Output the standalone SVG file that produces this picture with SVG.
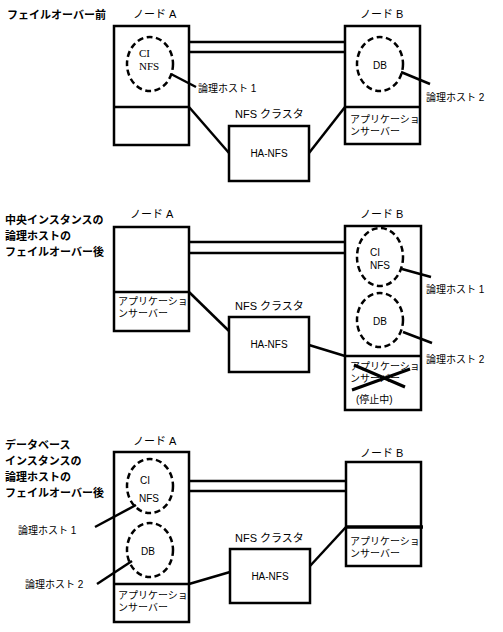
<svg xmlns="http://www.w3.org/2000/svg" width="503" height="632" viewBox="0 0 503 632">
<style>
.box{fill:none;stroke:#000;stroke-width:2.5}
.ln{fill:none;stroke:#000;stroke-width:2.5}
.ell{fill:none;stroke:#000;stroke-width:2.5;stroke-dasharray:6 3.5}
.t{font-family:"Liberation Sans","Noto Sans CJK JP",sans-serif;font-size:10px;fill:#000}
.tl{font-family:"Liberation Sans","Noto Sans CJK JP",sans-serif;font-size:11px;fill:#000}
.ts{font-family:"Liberation Serif","Noto Sans CJK JP",serif;font-size:11px;fill:#000}
.ti{font-family:"Noto Sans CJK JP",sans-serif;font-size:11px;font-weight:bold;fill:#000}
.mid{text-anchor:middle}
</style>
<rect width="503" height="632" fill="#fff"/>

<!-- Panel 1 -->
<g id="title1"><text class="ti" x="7" y="19">フェイルオーバー前</text></g>
<g id="p1-nodeA">
<text class="tl" x="133" y="18">ノード A</text>
<rect class="box" x="114" y="26" width="75" height="119"/>
<line class="ln" x1="114" y1="107" x2="189" y2="107"/>
</g>
<g id="p1-lh1">
<ellipse class="ell" cx="150" cy="64" rx="23" ry="27"/>
<text class="ts" x="139" y="57">CI</text>
<text class="ts" x="139" y="70">NFS</text>
<text class="t" x="198" y="92">論理ホスト 1</text>
</g>
<g id="p1-nodeB">
<text class="tl" x="360" y="18">ノード B</text>
<rect class="box" x="345" y="26" width="75" height="118"/>
<line class="ln" x1="345" y1="107" x2="420" y2="107"/>
<text class="t" x="350" y="123">アプリケーショ</text>
<text class="t" x="350" y="135">ンサーバー</text>
</g>
<g id="p1-lh2">
<ellipse class="ell" cx="380" cy="64" rx="23" ry="27"/>
<text class="t mid" x="380" y="69">DB</text>
<text class="t" x="426" y="101">論理ホスト 2</text>
</g>
<g id="p1-nfs">
<text class="tl" x="235" y="118">NFS クラスタ</text>
<rect class="box" x="229" y="126" width="80" height="55"/>
<text class="t mid" x="269" y="157">HA-NFS</text>
</g>

<!-- Panel 2 -->
<g id="title2">
<text class="ti" x="5" y="224">中央インスタンスの</text>
<text class="ti" x="5" y="240">論理ホストの</text>
<text class="ti" x="5" y="256">フェイルオーバー後</text>
</g>
<g id="p2-nodeA">
<text class="tl" x="130" y="218">ノード A</text>
<rect class="box" x="114" y="227" width="75" height="104"/>
<line class="ln" x1="114" y1="292" x2="189" y2="292"/>
<text class="t" x="118" y="305">アプリケーショ</text>
<text class="t" x="118" y="317">ンサーバー</text>
</g>
<g id="p2-nfs">
<text class="tl" x="235" y="310">NFS クラスタ</text>
<rect class="box" x="229" y="317" width="80" height="55"/>
<text class="t mid" x="269" y="348">HA-NFS</text>
</g>
<g id="p2-nodeB">
<text class="tl" x="360" y="218">ノード B</text>
<rect class="box" x="345" y="226" width="76" height="184"/>
<line class="ln" x1="345" y1="356" x2="421" y2="356"/>
<text class="t" x="350" y="370">アプリケーショ</text>
<text class="t" x="350" y="382">ンサーバー</text>
<text class="t" x="356" y="403">(停止中)</text>
<line x1="354" y1="365" x2="405" y2="387" stroke="#000" stroke-width="3"/>
<line x1="352" y1="390" x2="410" y2="369" stroke="#000" stroke-width="3"/>
</g>
<g id="p2-lh1">
<ellipse class="ell" cx="380" cy="257" rx="23" ry="29"/>
<text class="t" x="370" y="256">CI</text>
<text class="t" x="370" y="269">NFS</text>
<text class="t" x="426" y="293">論理ホスト 1</text>
</g>
<g id="p2-lh2">
<ellipse class="ell" cx="380" cy="320" rx="23" ry="27"/>
<text class="t mid" x="380" y="325">DB</text>
<text class="t" x="426" y="363">論理ホスト 2</text>
</g>

<!-- Panel 3 -->
<g id="title3">
<text class="ti" x="5" y="449">データベース</text>
<text class="ti" x="5" y="465">インスタンスの</text>
<text class="ti" x="5" y="481">論理ホストの</text>
<text class="ti" x="5" y="497">フェイルオーバー後</text>
</g>
<g id="p3-nodeA">
<text class="tl" x="133" y="445">ノード A</text>
<rect class="box" x="114" y="452" width="75" height="170"/>
<line class="ln" x1="114" y1="584" x2="189" y2="584"/>
<text class="t" x="118" y="599">アプリケーショ</text>
<text class="t" x="118" y="611">ンサーバー</text>
</g>
<g id="p3-lh1">
<ellipse class="ell" cx="150" cy="486" rx="23" ry="27"/>
<text class="t" x="140" y="484">CI</text>
<text class="t" x="139" y="502">NFS</text>
<text class="t" x="18" y="534">論理ホスト 1</text>
</g>
<g id="p3-lh2">
<ellipse class="ell" cx="150" cy="550" rx="23" ry="27"/>
<text class="t mid" x="148" y="555">DB</text>
<text class="t" x="25" y="588">論理ホスト 2</text>
</g>
<g id="p3-nfs">
<text class="tl" x="235" y="542">NFS クラスタ</text>
<rect class="box" x="230" y="549" width="80" height="54"/>
<text class="t mid" x="270" y="580">HA-NFS</text>
</g>
<g id="p3-nodeB">
<text class="tl" x="360" y="457">ノード B</text>
<rect class="box" x="346" y="462" width="75" height="104"/>
<line x1="346" y1="527" x2="423" y2="527" stroke="#000" stroke-width="3.5"/>
<text class="t" x="350" y="545">アプリケーショ</text>
<text class="t" x="350" y="557">ンサーバー</text>
</g>

<g id="connectors">
<!-- panel 1 -->
<line class="ln" x1="189" y1="42" x2="345" y2="42"/>
<line class="ln" x1="189" y1="52" x2="345" y2="52"/>
<line class="ln" x1="171" y1="74" x2="196" y2="87"/>
<line class="ln" x1="401" y1="72" x2="430" y2="84"/>
<line class="ln" x1="189" y1="107" x2="229" y2="153"/>
<line class="ln" x1="309" y1="153" x2="345" y2="107"/>
<!-- panel 2 -->
<line class="ln" x1="189" y1="242" x2="345" y2="242"/>
<line class="ln" x1="189" y1="253" x2="345" y2="253"/>
<line class="ln" x1="402" y1="269" x2="431" y2="277"/>
<line class="ln" x1="403" y1="332" x2="432" y2="343"/>
<line class="ln" x1="189" y1="292" x2="229" y2="331"/>
<line class="ln" x1="309" y1="345" x2="345" y2="356"/>
<!-- panel 3 -->
<line class="ln" x1="189" y1="481" x2="346" y2="481"/>
<line class="ln" x1="189" y1="491" x2="346" y2="491"/>
<line class="ln" x1="95" y1="527" x2="136" y2="505"/>
<line class="ln" x1="97" y1="584" x2="132" y2="561"/>
<line class="ln" x1="189" y1="584" x2="230" y2="572"/>
<line class="ln" x1="310" y1="566" x2="346" y2="527"/>
</g>
</svg>
